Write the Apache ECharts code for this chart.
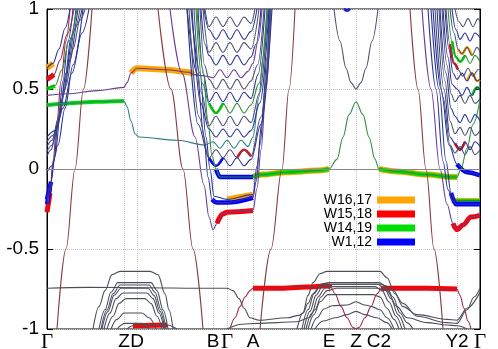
<!DOCTYPE html>
<html>
<head>
<meta charset="utf-8">
<script src="https://cdn.jsdelivr.net/npm/echarts@6/dist/echarts.min.js"></script>
<style>
  html, body { margin: 0; padding: 0; background: #fff; }
  #chart { width: 498px; height: 349px; }
</style>
</head>
<body>
<div id="chart"></div>
<script>
// k-path positions of the high-symmetry points and their labels
var kTicks = [0, 77, 90, 166, 180, 206, 282, 309, 332, 410, 433];
var kLabels = ['Γ', 'Z', 'D', 'B', 'Γ', 'A', 'E', 'Z', 'C2', 'Y2', 'Γ'];
var energyTicks = [-1, -0.5, 0, 0.5, 1];
var legendNames = ['W16,17', 'W15,18', 'W14,19', 'W1,12'];

// bands as [k, E(eV)]
// steep fan around the first Γ
var fanL1 = [[0, -0.27], [3, -0.15], [6, 0.05], [10, 0.3], [14, 0.55], [19, 0.8], [23, 1]];
var fanL2 = [[0, -0.22], [3, -0.12], [7, 0.05], [11, 0.3], [16, 0.55], [21, 0.8], [26, 1]];
var fanL3 = [[0, -0.19], [4, -0.08], [8, 0.08], [13, 0.32], [18, 0.57], [24, 0.82], [29, 1]];
var fanL4 = [[0, -0.02], [5, 0.02], [11, 0.15], [18, 0.38], [26, 0.65], [36, 1]];
var fanL5 = [[0, 0.08], [4, 0.12], [9, 0.22], [14, 0.4], [19, 0.6], [26, 0.85], [31, 1]];
var fanL6 = [[0, 0.11], [5, 0.15], [10, 0.25], [16, 0.45], [21, 0.65], [28, 0.88], [33, 1]];
var fanL7 = [[0, 0.14], [5, 0.18], [11, 0.29], [17, 0.48], [23, 0.68], [30, 0.9], [35, 1]];
var fanL8 = [[0, 0.17], [6, 0.21], [12, 0.33], [19, 0.52], [26, 0.75], [33, 0.93], [38, 1]];
var fanL9 = [[0, 0.2], [8, 0.24], [16, 0.38], [25, 0.6], [35, 0.85], [42, 1]];
var fanL10 = [[0, 0.63], [6, 0.66], [12, 0.75], [18, 0.88], [23, 1]];
var fanL11 = [[0, 0.56], [7, 0.59], [13, 0.68], [20, 0.84], [27, 1]];
var fanL12 = [[0, 0.5], [8, 0.52], [15, 0.62], [22, 0.8], [30, 1]];

// flat bands Γ-Z-D-B
var purpleOrange = [[0, 0.46], [20, 0.47], [50, 0.49], [77, 0.51], [80, 0.54], [84, 0.6], [90, 0.63], [120, 0.62], [142, 0.605], [146, 0.59], [160, 0.58], [166, 0.57], [173, 0.62], [180, 0.57], [187, 0.62], [194, 0.57], [201, 0.61], [206, 0.66], [211, 0.8], [215, 1]];
var greenTeal = [[0, 0.4], [20, 0.41], [50, 0.42], [77, 0.425], [80, 0.39], [84, 0.3], [88, 0.22], [92, 0.2], [130, 0.18], [158, 0.15], [166, 0.17], [173, 0.13], [180, 0.18], [187, 0.13], [194, 0.18], [201, 0.14], [206, 0.2], [212, 0.45], [216, 0.7], [220, 1]];

// bowl around the middle Γ
var midV1 = [[123, 1], [135, 0.6], [148, 0.2], [157, -0.1], [162, -0.3], [166, -0.38], [170, -0.34], [176, -0.28], [180, -0.27], [206, -0.26], [210, -0.12], [214, 0.12], [219, 0.5], [224, 1]];
var midV2 = [[140, 1], [150, 0.6], [157, 0.2], [161, -0.05], [165, -0.19], [170, -0.21], [180, -0.21], [206, -0.18], [209, -0.08], [213, 0.15], [218, 0.5], [223, 1]];
var midV3 = [[144, 1], [153, 0.6], [159, 0.2], [163, 0], [167, -0.17], [180, -0.19], [206, -0.16], [210, 0.02], [215, 0.3], [220, 0.7], [222, 1]];
var midW1 = [[140, 1], [151, 0.28], [162, 0.07], [169, 0.02], [176, 0.07], [183, 0.02], [190, 0.07], [197, 0.02], [204, 0.06], [214, 0.28], [225, 1]];
var midW2 = [[142, 1], [152, 0.325], [162, 0.07], [169, 0.12], [176, 0.07], [183, 0.12], [190, 0.07], [197, 0.12], [204, 0.08], [214, 0.325], [224, 1]];
var midW4 = [[145, 1], [153.5, 0.415], [162, 0.25], [169, 0.2], [176, 0.25], [183, 0.2], [190, 0.25], [197, 0.2], [204, 0.24], [213, 0.415], [222, 1]];
var midW5 = [[147, 1], [154.5, 0.475], [162, 0.27], [169, 0.33], [176, 0.27], [183, 0.33], [190, 0.27], [197, 0.33], [204, 0.29], [212.5, 0.475], [221, 1]];
var midW6 = [[149, 1], [155.5, 0.535], [162, 0.41], [169, 0.35], [176, 0.41], [183, 0.35], [190, 0.41], [197, 0.35], [204, 0.4], [212, 0.535], [220, 1]];
var midW7 = [[151, 1], [156.5, 0.59], [162, 0.42], [169, 0.48], [176, 0.42], [183, 0.48], [190, 0.42], [197, 0.48], [204, 0.44], [211, 0.59], [218, 1]];
var midW8 = [[153, 1], [157.5, 0.65], [162, 0.56], [169, 0.5], [176, 0.56], [183, 0.5], [190, 0.56], [197, 0.5], [204, 0.55], [210.5, 0.65], [217, 1]];
var midW10 = [[154, 1], [158, 0.78], [162, 0.71], [169, 0.65], [176, 0.71], [183, 0.65], [190, 0.71], [197, 0.65], [204, 0.7], [209, 0.78], [214, 1]];
var midW11 = [[156, 1], [162, 0.73], [169, 0.79], [176, 0.73], [183, 0.79], [190, 0.73], [197, 0.79], [204, 0.75], [212, 1]];
var midW12 = [[157, 1], [162, 0.87], [169, 0.81], [176, 0.87], [183, 0.81], [190, 0.87], [197, 0.81], [204, 0.86], [210, 1]];
var midW13 = [[158, 1], [162, 0.89], [169, 0.95], [176, 0.89], [183, 0.95], [190, 0.89], [197, 0.95], [204, 0.91], [208, 1]];

// band near the Fermi level, B ... Y2-Γ, with the bump at Z
var flatZero = [[150, 1], [156, 0.62], [161, 0.3], [165, 0.08], [169, 0], [173, -0.05], [206, -0.05], [215, -0.035], [240, -0.02], [270, -0.01], [282, 0], [290, 0.06], [296, 0.2], [302, 0.34], [309, 0.42], [316, 0.34], [322, 0.2], [328, 0.06], [332, 0], [350, -0.015], [380, -0.035], [405, -0.05], [410, -0.05], [414, 0], [420, 0.13], [426, 0.28], [433, 0.43]];
var zParabola = [[287, 1], [293, 0.8], [299, 0.63], [304, 0.54], [309, 0.5], [314, 0.54], [319, 0.63], [325, 0.8], [331, 1]];
var zTop = [[297, 1], [300, 0.99], [303, 1]];

// bowl around the last Γ
var rightV1 = [[375, 1], [384, 0.5], [393, 0], [400, -0.22], [406, -0.34], [410, -0.38], [416, -0.35], [424, -0.3], [433, -0.29]];
var rightV2 = [[381, 1], [389, 0.5], [396, 0.05], [401, -0.13], [406, -0.2], [420, -0.2], [433, -0.2]];
var rightV3 = [[384, 1], [392, 0.5], [399, 0.05], [404, -0.15], [409, -0.22], [420, -0.22], [433, -0.22]];
var rightW1 = [[386, 1], [394, 0.5], [402, 0.15], [410, 0.03], [420, -0.02], [433, -0.04]];
var rightW2 = [[388, 1], [396, 0.45], [403, 0.15], [408, 0.1], [413, 0.14], [418, 0.09], [423, 0.14], [428, 0.09], [433, 0.12]];
var rightW3 = [[390, 1], [397, 0.5], [403, 0.2], [408, 0.16], [413, 0.12], [418, 0.17], [423, 0.12], [428, 0.17], [433, 0.14]];
var rightW4 = [[392, 1], [398, 0.55], [403, 0.3], [408, 0.22], [413, 0.26], [418, 0.21], [423, 0.26], [428, 0.21], [433, 0.24]];
var rightW5 = [[393, 1], [399, 0.6], [404, 0.38], [408, 0.33], [413, 0.29], [418, 0.34], [423, 0.29], [428, 0.34], [433, 0.3]];
var rightW6 = [[395, 1], [400, 0.65], [404, 0.47], [408, 0.42], [413, 0.46], [418, 0.41], [423, 0.46], [428, 0.41], [433, 0.44]];
var rightW7 = [[396, 1], [401, 0.7], [405, 0.53], [410, 0.5], [415, 0.46], [420, 0.51], [425, 0.46], [430, 0.51], [433, 0.5]];
var rightW8 = [[398, 1], [402, 0.75], [406, 0.6], [410, 0.56], [415, 0.6], [420, 0.55], [425, 0.6], [430, 0.55], [433, 0.56]];
var rightW9 = [[399, 1], [403, 0.78], [407, 0.66], [411, 0.62], [416, 0.58], [421, 0.63], [426, 0.58], [431, 0.62], [433, 0.62]];
var rightW10 = [[401, 1], [405, 0.8], [409, 0.7], [413, 0.67], [418, 0.71], [423, 0.66], [428, 0.71], [433, 0.67]];
var rightW11 = [[403, 1], [407, 0.85], [411, 0.75], [415, 0.72], [420, 0.76], [425, 0.71], [430, 0.76], [433, 0.73]];
var rightW12 = [[405, 1], [409, 0.87], [413, 0.81], [418, 0.85], [423, 0.8], [428, 0.85], [433, 0.82]];
var rightW13 = [[408, 1], [412, 0.92], [416, 0.89], [421, 0.94], [426, 0.89], [431, 0.94], [433, 0.92]];

// steep bands crossing the whole window
var brownL = [[10, -1], [19, -0.5], [28, 0], [36.5, 0.5], [45, 1]];
var brownM1 = [[111, 1], [124, 0.5], [136, 0], [146, -0.5], [156, -1]];
var brownM2 = [[213, -1], [224, -0.5], [235, 0], [242, 0.5], [248, 1]];
var brownR = [[363, 1], [371, 0.5], [379, 0], [387, -0.5], [396, -1]];

// deep bands, domes around Z-D
var domeZD1 = [[46, -1], [52, -0.86], [58, -0.76], [65, -0.66], [73, -0.64], [103, -0.64], [111, -0.66], [118, -0.78], [122, -0.88], [126, -1]];
var domeZD2 = [[52, -1], [58, -0.88], [64, -0.77], [71, -0.71], [104, -0.71], [110, -0.76], [116, -0.88], [121, -1]];
var domeZD3 = [[54, -1], [60, -0.88], [66, -0.78], [73, -0.725], [102, -0.725], [108, -0.77], [114, -0.88], [119, -1]];
var domeZD4 = [[55, -1], [61, -0.89], [67, -0.79], [74, -0.745], [101, -0.745], [107, -0.79], [113, -0.89], [118, -1]];
var domeZD5 = [[57, -1], [63, -0.9], [69, -0.81], [76, -0.775], [100, -0.775], [106, -0.81], [112, -0.9], [117, -1]];
var domeZD6 = [[60, -1], [66, -0.92], [72, -0.84], [79, -0.81], [98, -0.81], [104, -0.84], [110, -0.92], [115, -1]];
var domeZD7 = [[64, -1], [70, -0.94], [77, -0.9], [95, -0.9], [102, -0.93], [109, -1]];
var domeZD8 = [[70, -1], [78, -0.965], [95, -0.965], [102, -1]];
var domeZD9 = [[80, -1], [86, -0.98], [120, -0.975], [130, -1]];

// deep bands from the middle Γ to the end
var grayFlat = [[0, -0.745], [40, -0.74], [100, -0.742], [150, -0.745], [180, -0.745], [186, -0.76], [192, -0.81], [197, -0.87], [203, -0.93], [212, -0.945], [240, -0.93], [252, -0.915], [256, -0.9], [261, -0.84], [266, -0.78], [272, -0.74], [280, -0.72], [320, -0.72], [333, -0.72], [345, -0.75], [356, -0.84], [370, -0.92], [400, -0.96], [410, -0.965], [420, -0.88], [427, -0.8], [433, -0.745]];
var redFlat = [[183, -1], [188, -0.93], [193, -0.86], [198, -0.8], [203, -0.76], [206, -0.745], [230, -0.745], [260, -0.738], [280, -0.73], [284, -0.74], [288, -0.78], [294, -0.86], [300, -0.93], [306, -0.99], [309, -1], [312, -0.99], [318, -0.93], [324, -0.86], [330, -0.78], [334, -0.75], [340, -0.745], [380, -0.745], [410, -0.75], [413, -0.79], [417, -0.87], [421, -0.95], [424, -1]];
var grayLow = [[180, -1], [195, -0.97], [210, -0.965], [250, -0.955], [262, -0.93], [268, -0.88], [274, -0.8], [280, -0.76], [290, -0.745], [330, -0.745], [340, -0.76], [350, -0.86], [360, -0.93], [380, -0.96], [400, -0.975], [410, -0.98], [420, -1]];
var domeE1 = [[250, -1], [256, -0.9], [261, -0.79], [266, -0.71], [273, -0.655], [280, -0.64], [333, -0.64], [340, -0.68], [348, -0.78], [356, -0.86], [370, -0.91], [400, -0.94], [410, -0.945], [420, -0.87], [433, -0.77]];
var domeE2 = [[255, -1], [261, -0.88], [267, -0.78], [274, -0.72], [282, -0.71], [332, -0.71], [339, -0.73], [346, -0.8], [353, -0.9], [360, -0.96], [366, -1]];
var domeE3 = [[257, -1], [263, -0.89], [269, -0.79], [276, -0.73], [284, -0.72], [330, -0.72], [337, -0.74], [344, -0.81], [351, -0.91], [358, -1]];
var domeE4 = [[259, -1], [265, -0.9], [271, -0.8], [278, -0.745], [286, -0.735], [328, -0.735], [335, -0.76], [342, -0.83], [349, -0.92], [355, -1]];
var domeE5 = [[261, -1], [267, -0.91], [273, -0.83], [281, -0.785], [326, -0.785], [333, -0.8], [340, -0.87], [347, -0.94], [352, -1]];
var domeE6 = [[264, -1], [270, -0.93], [277, -0.875], [285, -0.855], [300, -0.85], [309, -0.83], [318, -0.85], [325, -0.86], [333, -0.88], [340, -0.93], [347, -1]];
var domeE7 = [[268, -1], [276, -0.95], [288, -0.93], [300, -0.91], [309, -0.89], [318, -0.91], [330, -0.93], [340, -0.96], [345, -1]];

// Wannier weights: [band, k from, k to]
var weightW1617 = [[fanL10, 0, 6], [purpleOrange, 84, 146], [midV3, 176, 206], [flatZero, 206, 282], [flatZero, 332, 410], [rightV2, 403, 433]];
var weightW1518 = [[fanL1, 0, 3], [fanL11, 0, 7], [midV1, 170, 206], [redFlat, 206, 284], [redFlat, 334, 410], [rightV1, 406, 433], [domeZD9, 86, 120]];
var weightW1419 = [[greenTeal, 0, 77], [fanL12, 0, 8], [flatZero, 206, 282], [flatZero, 332, 410], [rightV2, 406, 433]];
var weightW112 = [[fanL2, 0, 3], [fanL3, 0, 4], [midV2, 165, 206], [flatZero, 169, 206], [rightV3, 404, 433], [rightW1, 410, 433]];
// small weight bits inside the dense bowls
var faintW1617 = [[rightW11, 411, 425], [rightW8, 420, 433]];
var faintW1518 = [[midW2, 190, 204], [rightW3, 408, 418], [rightW9, 403, 411]];
var faintW1419 = [[midW6, 162, 176], [rightW10, 405, 418], [rightW7, 425, 433]];
var faintW112 = [[midW1, 162, 176], [zTop, 297, 303]];

// ---------------------------------------------------------------
var navy = '#2b3596', slate = '#4c5372', purple = '#6a3c98', brown = '#8a3a3a',
    green = '#2f8f3f', teal = '#2e8080', gray = '#4b4f58', maroon = '#9b2a48';

var thinBands = [
  [fanL1, maroon], [fanL2, navy], [fanL3, navy], [fanL4, navy], [fanL5, navy], [fanL6, slate],
  [fanL7, navy], [fanL8, slate], [fanL9, navy], [fanL10, navy], [fanL11, maroon], [fanL12, green],
  [purpleOrange, purple], [greenTeal, teal],
  [midV1, purple], [midV2, navy], [midV3, navy],
  [midW1, navy], [midW2, slate], [midW4, navy], [midW5, slate], [midW6, green], [midW7, navy],
  [midW8, slate], [midW10, navy], [midW11, slate], [midW12, navy], [midW13, slate],
  [flatZero, green], [zParabola, slate], [zTop, navy],
  [rightV1, purple], [rightV2, navy], [rightV3, navy], [rightW1, navy], [rightW2, slate],
  [rightW3, navy], [rightW4, slate], [rightW5, navy], [rightW6, slate], [rightW7, navy],
  [rightW8, navy], [rightW9, slate], [rightW10, green], [rightW11, slate], [rightW12, navy], [rightW13, slate],
  [brownL, brown], [brownM1, brown], [brownM2, brown], [brownR, brown],
  [domeZD1, gray], [domeZD2, gray], [domeZD3, gray], [domeZD4, slate], [domeZD5, gray],
  [domeZD6, gray], [domeZD7, gray], [domeZD8, gray], [domeZD9, gray],
  [grayFlat, gray], [redFlat, maroon], [grayLow, gray],
  [domeE1, gray], [domeE2, gray], [domeE3, gray], [domeE4, gray], [domeE5, gray], [domeE6, gray], [domeE7, gray]
];

// name, colour, width, main parts, faint parts
var weightSets = [
  [legendNames[0], '#ffa500', 6, weightW1617, faintW1617],
  [legendNames[1], '#ff0000', 5, weightW1518, faintW1518],
  [legendNames[2], '#00dd00', 4, weightW1419, faintW1419],
  [legendNames[3], '#0000ff', 4.5, weightW112, faintW112]
];

function part(band, from, to) {
  return band.filter(function (p) { return p[0] >= from && p[0] <= to; });
}

function weightSeries(name, color, width, seg) {
  return {
    name: name, type: 'line', data: part(seg[0], seg[1], seg[2]),
    showSymbol: false, symbol: 'none', smooth: 0.35, smoothMonotone: 'x',
    lineStyle: { color: color, width: width }, itemStyle: { color: color },
    silent: true, z: 2
  };
}

var series = [];
weightSets.forEach(function (w) {
  w[3].forEach(function (seg) { series.push(weightSeries(w[0], w[1], w[2], seg)); });
  w[4].forEach(function (seg) { series.push(weightSeries(w[0], w[1], 2.6, seg)); });
});
thinBands.forEach(function (b, i) {
  var s = {
    type: 'line', data: b[0], showSymbol: false, symbol: 'none',
    smooth: 0.35, smoothMonotone: 'x',
    lineStyle: { color: b[1], width: 1.1 }, silent: true, z: 3
  };
  if (i === 0) {
    // Fermi level
    s.markLine = {
      silent: true, symbol: 'none', label: { show: false },
      lineStyle: { color: '#8a8a8a', type: 'solid', width: 1 },
      data: [{ yAxis: 0 }]
    };
  }
  series.push(s);
});

var chart = echarts.init(document.getElementById('chart'));
chart.setOption({
  animation: false,
  backgroundColor: '#fff',
  grid: {
    left: 47, right: 18, top: 9, bottom: 20, outerBoundsMode: 'none',
    show: true, borderColor: '#000', borderWidth: 1
  },
  legend: {
    data: legendNames, orient: 'vertical', align: 'right', right: 83, top: 193,
    padding: 0, itemGap: 0, itemWidth: 38, itemHeight: 7, icon: 'rect',
    textStyle: { fontSize: 14, lineHeight: 14, color: '#000', fontFamily: 'Liberation Sans' },
    selectedMode: false
  },
  xAxis: {
    type: 'value', min: 0, max: 433,
    axisLine: { show: true, lineStyle: { color: '#000' } },
    axisTick: { show: false, customValues: kTicks },
    axisLabel: {
      customValues: kTicks, margin: 3, fontSize: 19, color: '#000', fontFamily: 'Liberation Sans',
      formatter: function (v) {
        var i = kTicks.indexOf(v);
        var t = i >= 0 ? kLabels[i] : '';
        return t === 'Γ' ? '{g|Γ}' : t;
      },
      rich: { g: { fontFamily: 'Liberation Serif', fontSize: 21, color: '#000' } }
    },
    splitLine: { show: true, lineStyle: { color: '#c4c4c4', type: 'dotted' } }
  },
  yAxis: [{
    type: 'value', min: -1, max: 1, interval: 0.5,
    name: 'Energy, eV', nameLocation: 'middle', nameGap: 35,
    nameTextStyle: { fontSize: 23, color: '#000', fontFamily: 'Liberation Sans', padding: [0, 0, 0, 16] },
    axisLine: { show: true, lineStyle: { color: '#000' } },
    axisTick: { show: true, inside: true, length: 6, lineStyle: { color: '#000' } },
    axisLabel: {
      margin: 8, fontSize: 19, color: '#000', fontFamily: 'Liberation Sans',
      formatter: function (v) {
        return energyTicks.indexOf(v) >= 0 ? String(v) : '';
      }
    },
    splitLine: { show: true, lineStyle: { color: '#c4c4c4', type: 'dotted' } }
  }, {
    type: 'value', min: -1, max: 1, interval: 0.5, position: 'right',
    axisLine: { show: true, lineStyle: { color: '#000' } },
    axisTick: { show: true, inside: true, length: 6, lineStyle: { color: '#000' } },
    axisLabel: { show: false }, splitLine: { show: false }
  }],
  series: series
});
</script>
</body>
</html>
